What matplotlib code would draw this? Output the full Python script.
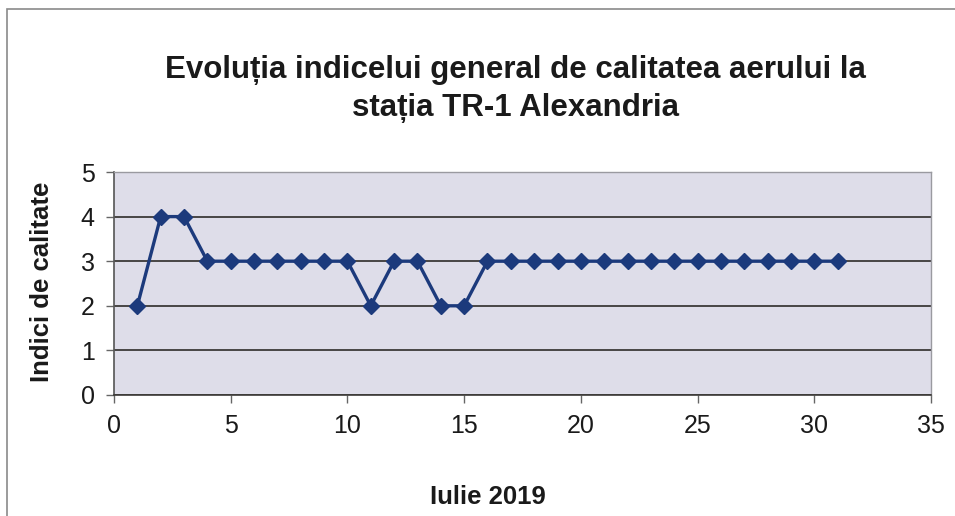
import matplotlib
matplotlib.use("Agg")
import matplotlib.pyplot as plt
from matplotlib.patches import Rectangle

plt.rcParams['font.family'] = ['Liberation Sans', 'DejaVu Sans']

days = list(range(1, 32))
index_values = [2, 4, 4, 3, 3, 3, 3, 3, 3, 3, 2, 3, 3, 2, 2, 3,
                3, 3, 3, 3, 3, 3, 3, 3, 3, 3, 3, 3, 3, 3, 3]
x_ticks = [0, 5, 10, 15, 20, 25, 30, 35]
y_ticks = [0, 1, 2, 3, 4, 5]

title_lines = ["Evoluția indicelui general de calitatea aerului la",
               "stația TR-1 Alexandria"]
xlabel = "Iulie 2019"
ylabel = "Indici de calitate"

W, H = 955, 516
fig = plt.figure(figsize=(W / 100, H / 100), dpi=100)
fig.patch.set_facecolor('white')

# outer frame (cropped at right/bottom)
fig.add_artist(Rectangle((7 / W, -0.1), 1.2, 1 - 9 / H + 0.1, transform=fig.transFigure,
                         fill=False, edgecolor='#8a8a8a', linewidth=1.2))

ax = fig.add_axes([114 / W, 1 - 395 / H, (931 - 114) / W, (395 - 172) / H])
ax.set_facecolor('#dedde9')
ax.set_xlim(0, 35)
ax.set_ylim(0, 5)
ax.set_xticks(x_ticks)
ax.set_yticks(y_ticks)
ax.yaxis.grid(True, color='#3c3a38', linewidth=1.3)
ax.set_axisbelow(True)

ax.plot(days, index_values, color='#1c3a7c', linewidth=2.4, marker='D',
        markersize=8, markerfacecolor='#1c3a7c', markeredgecolor='#1c3a7c', zorder=3)

for s in ['top', 'right']:
    ax.spines[s].set_color('#9a9aa0')
    ax.spines[s].set_linewidth(1.0)
for s in ['left', 'bottom']:
    ax.spines[s].set_color('#555555')
    ax.spines[s].set_linewidth(1.2)
ax.spines['bottom'].set_color('#3c3a38')

ax.tick_params(axis='both', direction='out', length=6, width=1, color='#666666',
               labelsize=18, labelcolor='#1a1a1a', pad=8)

fig.text(515 / W, 1 - 70 / H, title_lines[0], ha='center', va='center', fontsize=22.5,
         fontweight='bold', color='#1a1a1a')
fig.text(515 / W, 1 - 108 / H, title_lines[1], ha='center', va='center', fontsize=22.5,
         fontweight='bold', color='#1a1a1a')
fig.text(488 / W, 1 - 497 / H, xlabel, ha='center', va='center', fontsize=18.5,
         fontweight='bold', color='#1a1a1a')
fig.text(42 / W, 1 - 282 / H, ylabel, ha='center', va='center', rotation=90,
         fontsize=18.5, fontweight='bold', color='#1a1a1a')

fig.savefig('out.png', dpi=100)
